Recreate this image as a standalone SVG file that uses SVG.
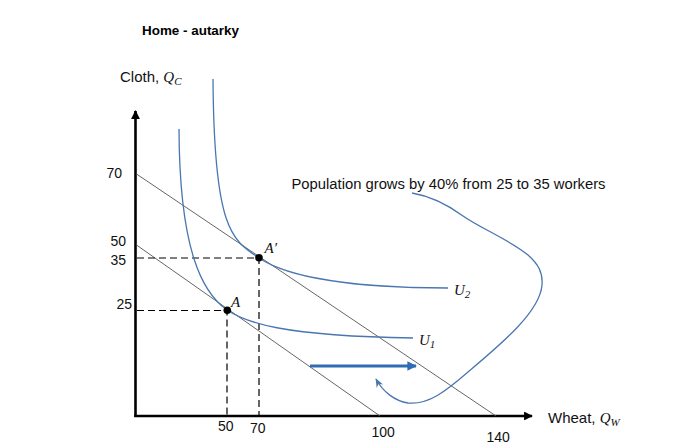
<svg xmlns="http://www.w3.org/2000/svg" width="690" height="448" viewBox="0 0 690 448">
<defs>
<style>
.axis{stroke:#000;stroke-width:2.6;fill:none}
.budget{stroke:#555;stroke-width:0.9;fill:none}
.dash{stroke:#000;stroke-width:1.2;stroke-dasharray:7,4;fill:none}
.ic{stroke:#4A76B0;stroke-width:1.3;fill:none}
.num{font-family:"Liberation Sans",Arial,sans-serif;font-size:14px;fill:#111}
.lbl{font-family:"Liberation Sans",Arial,sans-serif;font-size:15px;fill:#111}
.math{font-family:"Liberation Serif","Times New Roman",serif;font-style:italic;font-size:15px;fill:#111}
.sub{font-family:"Liberation Serif","Times New Roman",serif;font-style:italic;font-size:11px;fill:#111}
.subu{font-family:"Liberation Serif","Times New Roman",serif;font-size:11px;fill:#111}
</style>
<marker id="axhead" viewBox="0 0 10 10" refX="9" refY="5" markerWidth="3.4" markerHeight="3.4" orient="auto" markerUnits="strokeWidth">
<path d="M0,0 L10,5 L0,10 z" fill="#000"/>
</marker>
<marker id="bluehead" viewBox="0 0 10 10" refX="9" refY="5" markerWidth="3.2" markerHeight="3.2" orient="auto" markerUnits="strokeWidth">
<path d="M0,0 L10,5 L0,10 z" fill="#2E6DB4"/>
</marker>
<marker id="thinhead" viewBox="0 0 10 10" refX="9" refY="5" markerWidth="7" markerHeight="7" orient="auto" markerUnits="strokeWidth">
<path d="M0,1 L10,5 L0,9 L3,5 z" fill="#4A76B0"/>
</marker>
</defs>
<rect width="690" height="448" fill="#fff"/>

<g id="title">
<text x="142" y="35" font-family="'Liberation Sans',Arial,sans-serif" font-size="13.5" font-weight="bold" fill="#000" textLength="97" lengthAdjust="spacingAndGlyphs">Home - autarky</text>
</g>

<g id="axes">
<line class="axis" x1="135.5" y1="417" x2="135.5" y2="111" marker-end="url(#axhead)"/>
<line class="axis" x1="134.2" y1="416" x2="532" y2="416" marker-end="url(#axhead)"/>
<text class="lbl" x="120" y="82">Cloth, <tspan class="math">Q</tspan><tspan class="sub" dy="3">C</tspan></text>
<text class="lbl" x="548" y="423">Wheat, <tspan class="math">Q</tspan><tspan class="sub" dy="3">W</tspan></text>
</g>

<g id="ticks">
<text class="num" x="106.5" y="177.5">70</text>
<text class="num" x="110.5" y="245.5">50</text>
<text class="num" x="110.5" y="264.5">35</text>
<text class="num" x="116.5" y="308.5">25</text>
<text class="num" x="218" y="431">50</text>
<text class="num" x="250" y="433">70</text>
<text class="num" x="371.5" y="437">100</text>
<text class="num" x="486.5" y="442">140</text>
</g>

<g id="budget-lines">
<line class="budget" x1="136.5" y1="174" x2="496" y2="416"/>
<line class="budget" x1="136.5" y1="245" x2="380" y2="416"/>
</g>

<g id="dashed-guides">
<polyline class="dash" points="137,258 259,258 259,416"/>
<polyline class="dash" points="137,310.5 227,310.5 227,416"/>
</g>

<g id="U1">
<path class="ic" d="M179,129 C179.5,250 202,292.5 227,310 C245,322 280,336 413,338"/>
<text class="math" x="419" y="345">U<tspan class="subu" dy="3">1</tspan></text>
</g>

<g id="U2">
<path class="ic" d="M213,79 C214,230 232,240 259,258 C280,272 330,288 448,288"/>
<text class="math" x="454" y="295">U<tspan class="subu" dy="3">2</tspan></text>
</g>

<g id="point-A">
<circle cx="227.3" cy="310.3" r="3.8" fill="#000"/>
<text class="math" x="231" y="306.5">A</text>
</g>

<g id="point-A-prime">
<circle cx="259" cy="257.8" r="3.8" fill="#000"/>
<text class="math" x="264.5" y="253">A′</text>
</g>

<g id="annotation">
<text x="291.5" y="189" font-family="'Liberation Sans',Arial,sans-serif" font-size="14" fill="#111" textLength="314" lengthAdjust="spacingAndGlyphs">Population grows by 40% from 25 to 35 workers</text>
</g>

<g id="connectors">
<line x1="310" y1="366" x2="416" y2="366" stroke="#2E6DB4" stroke-width="3" marker-end="url(#bluehead)"/>
<path class="ic" d="M412,193 C430,196 448,205 463,216 C480,228 510,240 528,255 C538,264 543,272 542,285 C540,312 500,345 468,372 C445,392 428,405 408,403 C395,401 383,392 376,379" marker-end="url(#thinhead)"/>
</g>
</svg>
